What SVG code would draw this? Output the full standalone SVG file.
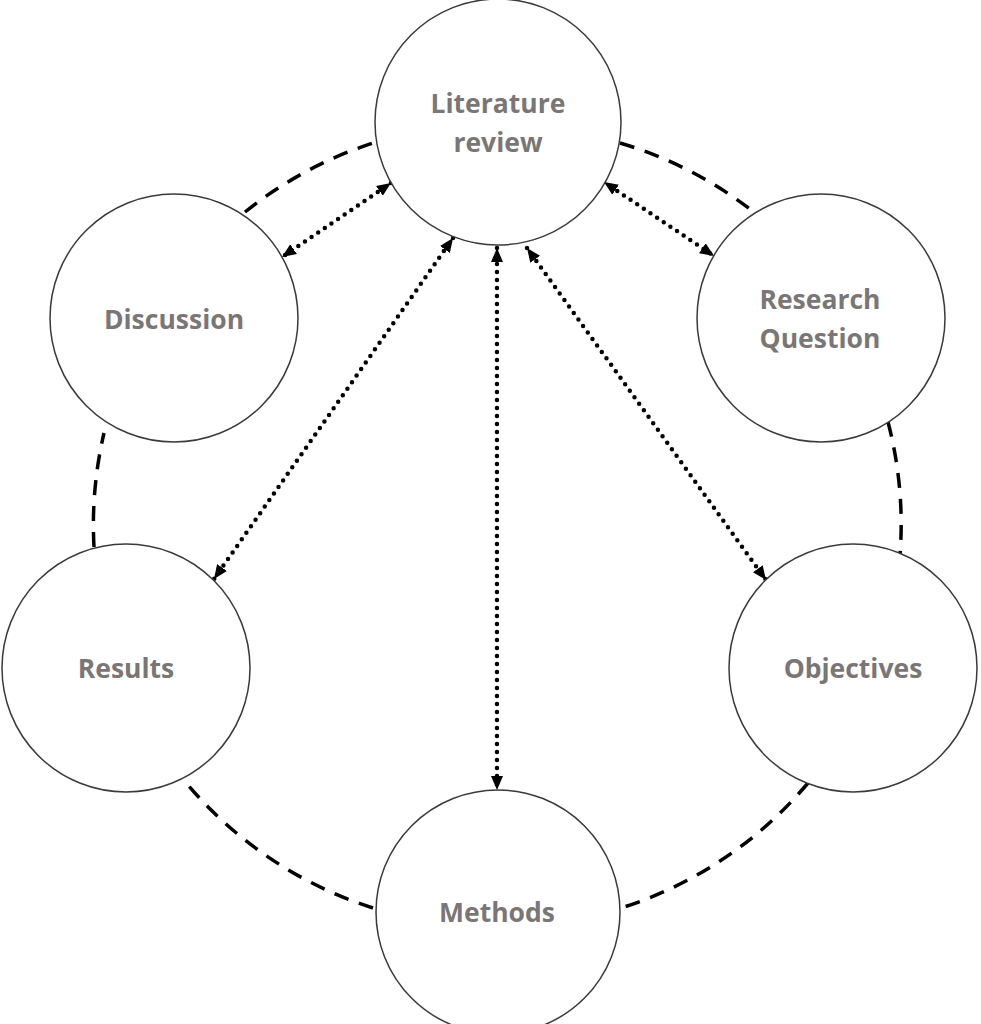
<svg xmlns="http://www.w3.org/2000/svg" width="981" height="1024" viewBox="0 0 981 1024">
<style>
.node{fill:#fff;stroke:#3a3a3a;stroke-width:1.5}
.lbl{font-family:"Open Sans",Lato,"Liberation Sans",sans-serif;font-weight:bold;font-size:26.5px;fill:#7a7676;text-anchor:middle}
.dash{fill:none;stroke:#000;stroke-width:3.5;stroke-dasharray:15 11}
.dot{fill:none;stroke:#000;stroke-width:4.5;stroke-linecap:round;stroke-dasharray:0 8;marker-start:url(#ah);marker-end:url(#ah)}
</style>
<defs>
<marker id="ah" markerUnits="userSpaceOnUse" markerWidth="16" markerHeight="14" refX="14" refY="7" orient="auto-start-reverse" viewBox="0 0 16 14">
<path d="M0,1 L14,7 L0,13 z" fill="#000"/>
</marker>
</defs>
<rect width="981" height="1024" fill="#fff"/>
<g id="connectors">
<path class="dash" d="M620,143 A403,403 0 0 1 755,213"/>
<path class="dash" d="M888,422 A403,403 0 0 1 900,555"/>
<path class="dash" d="M808,783 A403,403 0 0 1 621,908"/>
<path class="dash" d="M373,908 A403,403 0 0 1 188,785"/>
<path class="dash" d="M94,547 A403,403 0 0 1 104,433"/>
<path class="dash" d="M245,212 A403,403 0 0 1 373,143"/>
<path class="dot" d="M391,183 L282,257"/>
<path class="dot" d="M604,182 L714,256"/>
<path class="dot" d="M453,238 L214,579"/>
<path class="dot" d="M497,248 L497,790"/>
<path class="dot" d="M527,248 L766,580"/>
</g>
<g id="literature-review">
<circle class="node" cx="498" cy="122" r="123"/>
<text class="lbl" x="498" y="113">Literature</text>
<text class="lbl" x="498" y="152">review</text>
</g>
<g id="discussion">
<circle class="node" cx="174" cy="318" r="124"/>
<text class="lbl" x="174" y="329">Discussion</text>
</g>
<g id="research-question">
<circle class="node" cx="821" cy="318" r="124"/>
<text class="lbl" x="820" y="309">Research</text>
<text class="lbl" x="820" y="348">Question</text>
</g>
<g id="results">
<circle class="node" cx="126" cy="668" r="124"/>
<text class="lbl" x="126" y="678">Results</text>
</g>
<g id="objectives">
<circle class="node" cx="853" cy="668" r="124"/>
<text class="lbl" x="853" y="678">Objectives</text>
</g>
<g id="methods">
<circle class="node" cx="498" cy="912" r="122"/>
<text class="lbl" x="497" y="922">Methods</text>
</g>
</svg>
